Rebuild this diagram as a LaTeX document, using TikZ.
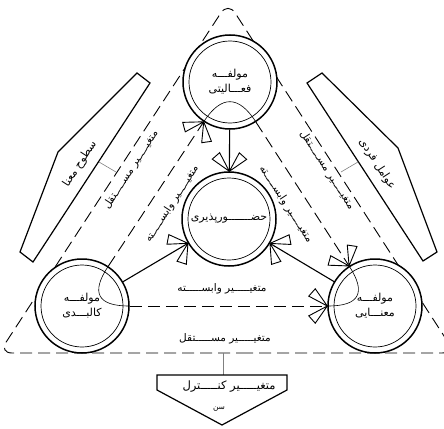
\documentclass[tikz,border=0pt]{standalone}
\usepackage{fontspec}
\newfontfamily\arfont[Script=Arabic]{DejaVu Sans}
\TeXXeTstate=1
\usetikzlibrary{calc}
\newcommand\artext[1]{\beginR #1\endR}
\newcommand\bfly[2]{%
  \coordinate (tp) at ($(#1.center)!47.7pt!(#2.center)$);
  \draw[wing] (tp) -- ($(tp)!21pt!28:(#2.center)$) -- ($(tp)!21pt!55:(#2.center)$) -- cycle;
  \draw[wing] (tp) -- ($(tp)!21pt!-28:(#2.center)$) -- ($(tp)!21pt!-55:(#2.center)$) -- cycle;}
\newcommand\crn[3]{%
  \draw[thinl] ($(#1.center)!47pt!(#2.center)$) .. controls ($(#1.center)!15.7pt!(#2.center)$) and ($(#1.center)!15.7pt!(#3.center)$) .. ($(#1.center)!47pt!(#3.center)$);}
\begin{document}
\begin{tikzpicture}[x=1pt,y=-1pt,
  font=\arfont\fontsize{10.5}{12}\selectfont,
  comp/.style={circle,draw,line width=1.5pt,minimum size=94pt,inner sep=0pt,fill=white,align=center,font=\arfont\fontsize{11}{12}\selectfont},
  dashl/.style={line width=0.9pt,dash pattern=on 12pt off 6pt},
  wing/.style={draw,fill=white,line width=0.9pt,line join=miter},
  conn/.style={line width=1.1pt},
  thinl/.style={line width=0.6pt},
  box/.style={line width=1.2pt,line join=miter},
  tick/.style={line width=0.6pt,gray},
  lbl/.style={inner sep=0pt}]
\useasboundingbox (0,0) rectangle (444,428);
% outer dashed triangle
\draw[dashl,rounded corners=13pt] (228,353) -- (455,353) -- (228,2) -- (-1,353) -- cycle;
% side boxes
\draw[box] (137,73) -- (150,83) -- (33,262) -- (20,252) -- (58,152) -- cycle;
\draw[box] (322,73) -- (398,148) -- (437,252) -- (423,261) -- (307,83) -- cycle;
\node[lbl,rotate=57,font=\arfont\fontsize{11}{12}\selectfont] (sm) at (80,164) {\artext{سطوح معنا}};
\node[lbl,rotate=-57,font=\arfont\fontsize{11}{12}\selectfont] (af) at (377,164) {\artext{عوامل فردی}};
\coordinate (tl1) at (99,162); \coordinate (tl2) at (116,172);
\coordinate (tr1) at (358,162); \coordinate (tr2) at (341,172);
\draw[tick] (tl1) -- (tl2);
\draw[tick] (tr1) -- (tr2);
% components
\node[comp] (T) at (230,82) {\artext{مولفـــه}\\[3pt]\artext{فعـــالیتی}};
\node[comp] (M) at (229,219) {\artext{حضـــــــورپذیری}};
\node[comp] (L) at (82,306) {\artext{مولفـــه}\\[3pt]\artext{کالبـــدی}};
\node[comp] (R) at (375,306) {\artext{مولفـــه}\\[3pt]\artext{معنـــایی}};
\foreach \c in {T,M,L,R} \draw[line width=0.7pt] (\c.center) circle (41pt);
% inner dashed triangle
\draw[dashl] (L) -- (T);
\draw[dashl] (T) -- (R);
\draw[dashl] (L) -- (R);
\crn{T}{L}{R}
\crn{L}{T}{R}
\crn{R}{T}{L}
% solid connectors
\draw[conn] (T) -- (M);
\draw[conn] (L) -- (M);
\draw[conn] (R) -- (M);
\bfly{M}{T}
\bfly{M}{L}
\bfly{M}{R}
\bfly{T}{L}
\bfly{R}{T}
\bfly{R}{L}
% labels along lines
\node[lbl,rotate=57] (mol) at (131,170) {\artext{متغیـــــیر مســـــتقل}};
\node[lbl,rotate=-57] (mor) at (327,170) {\artext{متغیـــــیر مســـــتقل}};
\node[lbl,rotate=57] (mil) at (172,204) {\artext{متغیـــــیر وابســـــته}};
\node[lbl,rotate=-57] (mir) at (286,204) {\artext{متغیـــــیر وابســـــته}};
\node[lbl] (vb) at (222,289) {\artext{متغیـــــیر وابســـــته}};
\node[lbl] (mb) at (225,339) {\artext{متغیـــــیر مســـــتقل}};
% control variable
\coordinate (c1) at (223,353); \coordinate (c2) at (223,375);
\draw[tick] (c1) -- (c2);
\draw[box] (157,375) -- (287,375) -- (287,390) -- (222,425) -- (157,390) -- cycle;
\node[lbl,font=\arfont\fontsize{11.5}{12}\selectfont] (ck) at (229,387) {\artext{متغیـــــیر کنـــــترل}};
\node[lbl,font=\arfont\fontsize{7.5}{8}\selectfont] (sn) at (219,409) {\artext{سن}};
\end{tikzpicture}
\end{document}
